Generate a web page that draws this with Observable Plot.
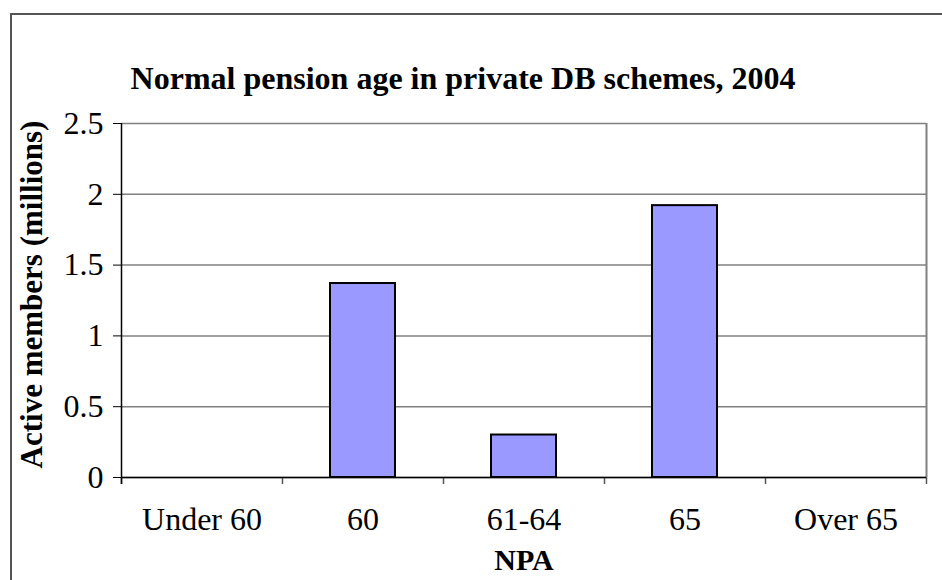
<!DOCTYPE html>
<html>
<head>
<meta charset="utf-8">
<script src="https://cdn.jsdelivr.net/npm/d3@7"></script>
<script src="https://cdn.jsdelivr.net/npm/@observablehq/plot@0.6"></script>
<style>
  html, body { margin: 0; padding: 0; background: #fff; }
  #wrap { position: relative; width: 942px; height: 580px; overflow: hidden; }
  #border { position: absolute; left: 10px; top: 13px; width: 1000px; height: 700px;
            border-left: 2px solid #555; border-top: 2px solid #555; box-sizing: border-box; }
  #chart { position: absolute; left: 0; top: 0; }
</style>
</head>
<body>
<div id="wrap"><div id="border"></div><div id="chart"></div></div>
<script>
const categories = ["Under 60", "60", "61-64", "65", "Over 65"];
const values = [0, 1.37, 0.3, 1.92, 0];
const yTicks = [0, 0.5, 1, 1.5, 2, 2.5];
const yTickLabels = ["0", "0.5", "1", "1.5", "2", "2.5"];
const title = "Normal pension age in private DB schemes, 2004";
const yLabel = "Active members (millions)";
const xLabel = "NPA";

const data = categories.map((c, i) => ({cat: c, value: values[i]}));

const width = 942, height = 580;
const marginLeft = 121, marginRight = 16, marginTop = 123, marginBottom = 103;
const halfStep = (width - marginLeft - marginRight) / categories.length / 2;
const font = "'Liberation Serif', 'Times New Roman', serif";

const chart = Plot.plot({
  width, height, marginLeft, marginRight, marginTop, marginBottom,
  style: {fontFamily: font, fontSize: "32px", color: "black", background: "transparent", overflow: "visible"},
  x: {type: "band", domain: categories, paddingInner: 0.596, paddingOuter: 0.298, label: null},
  y: {domain: [0, 2.5], label: null},
  marks: [
    Plot.ruleY(yTicks, {y: d => d, stroke: "#808080", strokeWidth: 1.5}),
    Plot.ruleX([categories[categories.length - 1]], {x: d => d, dx: halfStep, stroke: "#808080", strokeWidth: 2}),
    Plot.ruleX(categories, {x: d => d, dx: -halfStep, y1: 0, y2: 0, insetBottom: -7, stroke: "#555", strokeWidth: 1.5}),
    Plot.ruleX([categories[categories.length - 1]], {x: d => d, dx: halfStep, y1: 0, y2: 0, insetBottom: -7, stroke: "#555", strokeWidth: 1.5}),
    Plot.ruleX([categories[0]], {x: d => d, dx: -halfStep, insetBottom: -7, stroke: "black", strokeWidth: 1.5}),
    Plot.ruleY([0], {stroke: "black", strokeWidth: 1.5}),
    Plot.barY(data.filter(d => d.value > 0), {x: "cat", y: "value", fill: "#9999ff", stroke: "black", strokeWidth: 2}),
    Plot.axisY({ticks: yTicks, tickFormat: (d) => yTickLabels[yTicks.indexOf(d)], tickSize: 8, tickPadding: 10, label: null, fontSize: 32}),
    Plot.axisX({tickSize: 0, tickPadding: 30, label: null, fontSize: 32}),
    Plot.text([title], {frameAnchor: "top", text: d => d, lineAnchor: "middle", textAnchor: "middle", dx: -61, dy: -45, fontSize: 32, fontWeight: "bold"}),
    Plot.text([yLabel], {frameAnchor: "left", text: d => d, textAnchor: "middle", lineAnchor: "middle", rotate: -90, dx: -89, dy: -6, fontSize: 31, fontWeight: "bold"}),
    Plot.text([xLabel], {frameAnchor: "bottom", text: d => d, textAnchor: "middle", lineAnchor: "middle", dy: 83, fontSize: 30, fontWeight: "bold"})
  ]
});
document.getElementById("chart").appendChild(chart);
</script>
</body>
</html>
